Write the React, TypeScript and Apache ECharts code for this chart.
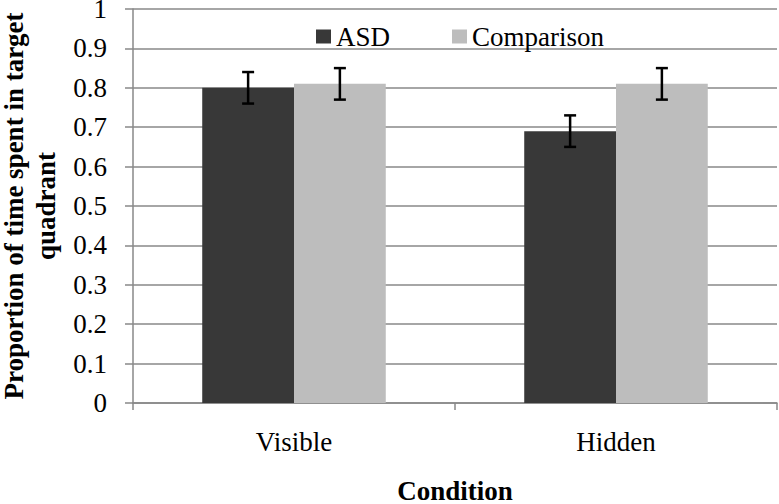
import React, { useEffect, useRef } from "react";
import * as echarts from "echarts";

const categories = ["Visible", "Hidden"];
const seriesNames = ["ASD", "Comparison"];
const asdValues = [0.8, 0.69];
const comparisonValues = [0.81, 0.81];
const asdErrors = [0.04, 0.04];
const comparisonErrors = [0.04, 0.04];
const yTicks = { min: 0, max: 1, interval: 0.1 };

const FONT = "Liberation Serif";
const FS = 27;
const BAR_CATEGORY_GAP = 0.43;

export default function App() {
  const ref = useRef<HTMLDivElement>(null);
  useEffect(() => {
    if (!ref.current) return;
    const chart = echarts.init(ref.current, undefined, { renderer: "svg" });
    const errData: number[][] = [];
    categories.forEach((_, i) => {
      errData.push([i, asdValues[i], asdErrors[i], 0]);
      errData.push([i, comparisonValues[i], comparisonErrors[i], 1]);
    });
    chart.setOption({
      animation: false,
      backgroundColor: "#ffffff",
      textStyle: { fontFamily: FONT },
      grid: {
        left: 133,
        right: 2,
        top: 9,
        bottom: 101,
        containLabel: false,
        outerBoundsMode: "none",
      },
      legend: {
        data: seriesNames,
        left: 311,
        top: 18,
        itemWidth: 15,
        itemHeight: 14,
        itemGap: 62,
        icon: "rect",
        textStyle: { fontFamily: FONT, fontSize: FS, color: "#000" },
      },
      xAxis: {
        type: "category",
        data: categories,
        name: "Condition",
        nameLocation: "middle",
        nameGap: 76,
        nameTextStyle: { fontFamily: FONT, fontSize: FS, fontWeight: "bold", color: "#000", lineHeight: 24 },
        axisLine: { lineStyle: { color: "#888", width: 1.5 } },
        axisTick: { show: true, length: 7, lineStyle: { color: "#888", width: 1.5 } },
        axisLabel: { fontFamily: FONT, fontSize: FS, color: "#000", margin: 25 },
      },
      yAxis: {
        type: "value",
        min: yTicks.min,
        max: yTicks.max,
        interval: yTicks.interval,
        name: "Proportion of time spent in target\nquadrant",
        nameLocation: "middle",
        nameGap: 71,
        nameTextStyle: { fontFamily: FONT, fontSize: FS, fontWeight: "bold", color: "#000", lineHeight: 32 },
        axisLine: { show: true, lineStyle: { color: "#888", width: 1.5 } },
        axisTick: { show: true, length: 8, lineStyle: { color: "#888", width: 1.5 } },
        axisLabel: { fontFamily: FONT, fontSize: FS, color: "#000", margin: 26, lineHeight: 18 },
        splitLine: { show: true, lineStyle: { color: "#888", width: 1.5 } },
      },
      series: [
        {
          name: seriesNames[0],
          type: "bar",
          data: asdValues,
          itemStyle: { color: "#383838" },
          barGap: "0%",
          barCategoryGap: BAR_CATEGORY_GAP * 100 + "%",
        },
        {
          name: seriesNames[1],
          type: "bar",
          data: comparisonValues,
          itemStyle: { color: "#bdbdbd" },
          barGap: "0%",
          barCategoryGap: BAR_CATEGORY_GAP * 100 + "%",
        },
        {
          type: "custom",
          name: "errors",
          data: errData,
          z: 10,
          renderItem: (params: any, api: any) => {
            const cat = api.value(0);
            const val = api.value(1);
            const err = api.value(2);
            const idx = api.value(3);
            const band = api.size([1, 0])[0];
            const group = band * (1 - BAR_CATEGORY_GAP);
            const center = api.coord([cat, val]);
            const x = center[0] + (idx === 0 ? -group / 4 : group / 4);
            const top = api.coord([cat, val + err])[1];
            const bot = api.coord([cat, val - err])[1];
            const cap = 6;
            const style = { stroke: "#000", lineWidth: 2.5 };
            return {
              type: "group",
              children: [
                { type: "line", shape: { x1: x, y1: top, x2: x, y2: bot }, style },
                { type: "line", shape: { x1: x - cap, y1: top, x2: x + cap, y2: top }, style },
                { type: "line", shape: { x1: x - cap, y1: bot, x2: x + cap, y2: bot }, style },
              ],
            };
          },
        },
      ],
    });
    return () => chart.dispose();
  }, []);
  return (
    <div
      ref={ref}
      style={{ position: "fixed", left: 0, top: 0, width: 779, height: 504, background: "#fff" }}
    />
  );
}
